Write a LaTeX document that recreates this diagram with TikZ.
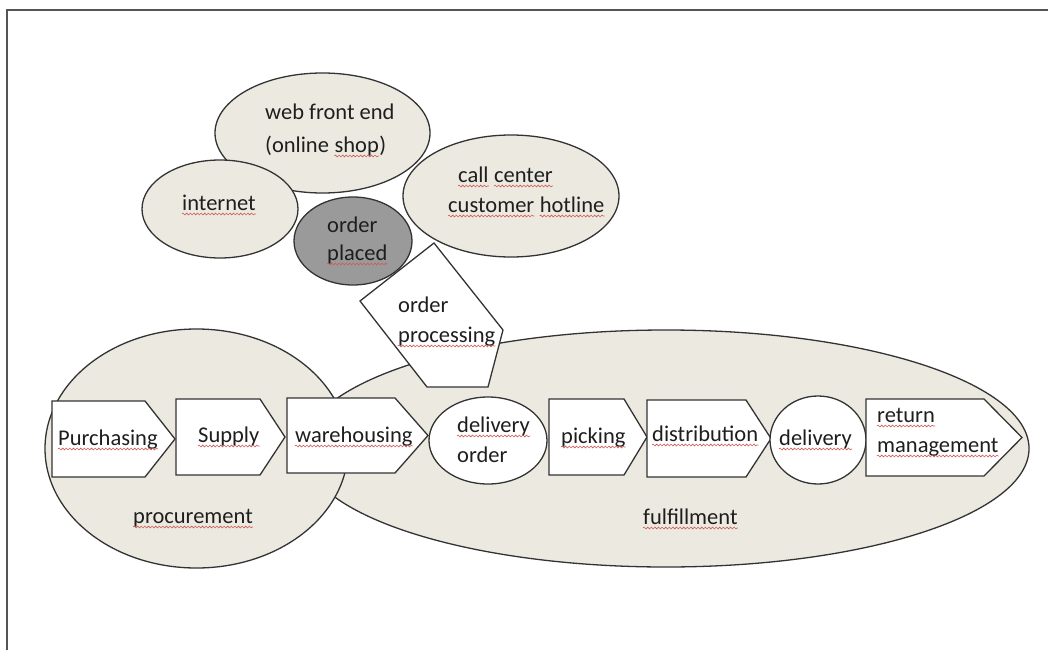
\documentclass[tikz,border=0pt]{standalone}
\usepackage{fontspec}
\setmainfont{Carlito}
\usetikzlibrary{shapes.geometric,decorations.pathmorphing}
\definecolor{beige}{HTML}{ECEAE0}
\definecolor{darkgr}{HTML}{9A9A9A}
\definecolor{ln}{HTML}{333333}
\definecolor{txt}{HTML}{1E1E1E}
\definecolor{framec}{HTML}{555555}
\definecolor{squig}{HTML}{D05A5A}
\newcommand\squig[1]{\draw[squigline] ([yshift=-4pt]#1.base west) -- ([yshift=-4pt]#1.base east);}
\begin{document}
\begin{tikzpicture}[x=1pt,y=-1pt,
  blob/.style={ellipse, draw=ln, line width=1.3pt, fill=beige, inner sep=0pt},
  wblob/.style={ellipse, draw=ln, line width=1.3pt, fill=white, inner sep=0pt},
  gblob/.style={ellipse, draw=ln, line width=1.3pt, fill=darkgr, inner sep=0pt},
  shp/.style={draw=ln, line width=1.3pt, fill=white, line join=miter},
  lbl/.style={anchor=base west, inner sep=0pt, text=txt, font=\fontsize{22.5}{27}\selectfont},
  squigline/.style={draw=squig, line width=0.6pt, decorate, decoration={snake, amplitude=0.9pt, segment length=3.6pt}}]
\useasboundingbox (0,0) rectangle (1048,650);
\fill[white] (0,0) rectangle (1048,650);
% frame
\draw[line width=2pt, framec] (7,650) -- (7,10) -- (1048,10);
% big groups
\node[blob, minimum width=726pt, minimum height=237pt] (fulfil) at (666,448.5) {};
\node[blob, minimum width=303pt, minimum height=239pt] (procure) at (196.5,448.5) {};
% process chain
\draw[shp] (52,401) -- (145,401) -- (175,439) -- (145,477) -- (52,477) -- cycle;
\draw[shp] (176,399) -- (260,399) -- (285,437) -- (260,475) -- (176,475) -- cycle;
\draw[shp] (287,398) -- (395,398) -- (428,435.5) -- (395,473) -- (287,473) -- cycle;
\node[wblob, minimum width=118pt, minimum height=87pt] (delord) at (488,440.5) {};
\draw[shp] (549,399) -- (624,399) -- (647,437) -- (624,475) -- (549,475) -- cycle;
\draw[shp] (647,400) -- (746,400) -- (771,438.5) -- (746,477) -- (647,477) -- cycle;
\node[wblob, minimum width=96pt, minimum height=88pt] (deliv) at (818,440) {};
\draw[shp] (866,399) -- (984,399) -- (1022,437.5) -- (984,476) -- (866,476) -- cycle;
% order processing pentagon
\draw[shp] (434,243) -- (503,330) -- (488,387) -- (427,387) -- (360,301) -- cycle;
% top ellipses
\node[blob, minimum width=215pt, minimum height=120pt] (web) at (322.5,133) {};
\node[blob, minimum width=156pt, minimum height=98pt] (inet) at (220,209) {};
\node[gblob, minimum width=118pt, minimum height=88pt] (placed) at (353,241) {};
\node[blob, minimum width=216pt, minimum height=122pt] (call) at (511,196) {};
% texts
\node[lbl] (t-web1) at (265,120) {web front end};
\node[lbl] (t-web2a) at (265,152) {(online};
\node[lbl] (t-web2b) at ([xshift=5.1pt]t-web2a.base east) {shop};
\node[lbl] (t-web2c) at (t-web2b.base east) {)};
\node[lbl] (t-inet) at (182,210) {internet};
\node[lbl] (t-pl1) at (327,232) {order};
\node[lbl] (t-pl2) at (327,260) {placed};
\node[lbl] (t-cc1a) at (458,182) {call};
\node[lbl] (t-cc1b) at ([xshift=5.1pt]t-cc1a.base east) {center};
\node[lbl] (t-cc2a) at (448,212) {customer};
\node[lbl] (t-cc2b) at ([xshift=5.1pt]t-cc2a.base east) {hotline};
\node[lbl] (t-op1) at (398,312) {order};
\node[lbl] (t-op2) at (398,342) {processing};
\node[lbl] (t-purch) at (58,445) {Purchasing};
\node[lbl] (t-supply) at (198,442) {Supply};
\node[lbl] (t-wareh) at (295,442) {warehousing};
\node[lbl] (t-do1) at (457,432) {delivery};
\node[lbl] (t-do2) at (457,462) {order};
\node[lbl] (t-pick) at (561,443) {picking};
\node[lbl] (t-dist) at (652,441) {distribution};
\node[lbl] (t-deliv) at (779,445) {delivery};
\node[lbl] (t-ret1) at (877,422) {return};
\node[lbl] (t-ret2) at (877,452) {management};
\node[lbl] (t-proc) at (133,523) {procurement};
\node[lbl] (t-fulf) at (643,524) {fulfillment};
% spell-check squiggles
\squig{t-web2b}
\squig{t-inet}
\squig{t-pl2}
\squig{t-cc1a}
\squig{t-cc1b}
\squig{t-cc2a}
\squig{t-cc2b}
\squig{t-op2}
\squig{t-purch}
\squig{t-supply}
\squig{t-wareh}
\squig{t-do1}
\squig{t-pick}
\squig{t-dist}
\squig{t-deliv}
\squig{t-ret1}
\squig{t-ret2}
\squig{t-proc}
\squig{t-fulf}
\end{tikzpicture}
\end{document}
